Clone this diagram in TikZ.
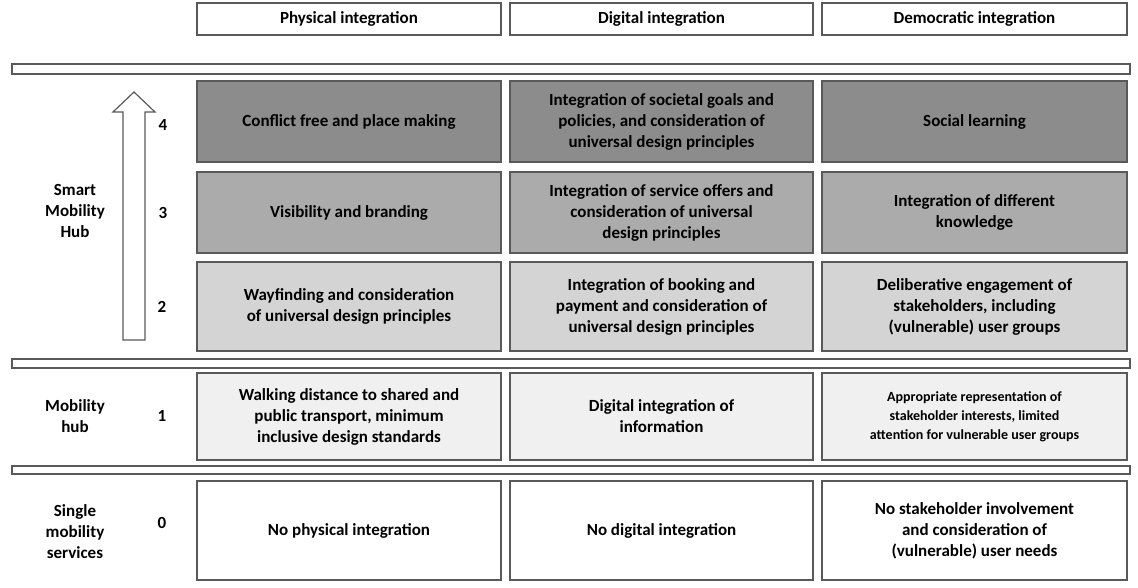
\documentclass[tikz,border=0pt]{standalone}
\usepackage{fontspec}
\setmainfont{Carlito}
\begin{document}
\begin{tikzpicture}[x=1pt,y=-1pt,
 cell/.style={draw=black!65,line width=1.2pt,align=center,font=\bfseries\fontsize{17}{21}\selectfont,inner sep=0pt},
 bar/.style={draw=black!65,line width=1.2pt,fill=white},
 lab/.style={align=center,font=\bfseries\fontsize{17}{21}\selectfont}]
\useasboundingbox (0,0) rectangle (1138,588);
\def\cx{{349,661.5,974.5}}
% header
\foreach \a/\b/\t [count=\i] in {197/501/Physical integration,510/813/Digital integration,822/1127/Democratic integration}
  \node[cell,minimum width=\b-\a,minimum height=32] (h\i) at ({(\a+\b)/2},19) {\t};
% bars
\draw[bar] (12,64) rectangle (1130,74);
\draw[bar] (12,359) rectangle (1130,368);
\draw[bar] (12,466) rectangle (1130,474);
% rows
\newcommand{\rowcells}[6]{%
 \node[cell,fill=#3,minimum width=304,minimum height=#2] (r#1a) at (349,#6) {#4};
 \node[cell,fill=#3,minimum width=303,minimum height=#2] (r#1b) at (661.5,#6) {#5};}
\rowcells{4}{81}{black!45}{Conflict free and place making}{Integration of societal goals and\\policies, and consideration of\\universal design principles}{121.5}
\node[cell,fill=black!45,minimum width=305,minimum height=81] (r4c) at (974.5,121.5) {Social learning};
\rowcells{3}{81}{black!33}{Visibility and branding}{Integration of service offers and\\consideration of universal\\design principles}{212.5}
\node[cell,fill=black!33,minimum width=305,minimum height=81] (r3c) at (974.5,212.5) {Integration of different\\knowledge};
\rowcells{2}{89}{black!17}{Wayfinding and consideration\\of universal design principles}{Integration of booking and\\payment and consideration of\\universal design principles}{306.5}
\node[cell,fill=black!17,minimum width=305,minimum height=89] (r2c) at (974.5,306.5) {Deliberative engagement of\\stakeholders, including\\(vulnerable) user groups};
\rowcells{1}{87}{black!6}{Walking distance to shared and\\public transport, minimum\\inclusive design standards}{Digital integration of\\information}{416.5}
\node[cell,fill=black!6,minimum width=305,minimum height=87,font=\bfseries\fontsize{14}{19}\selectfont] (r1c) at (974.5,416.5) {Appropriate representation of\\stakeholder interests, limited\\attention for vulnerable user groups};
\rowcells{0}{99}{white}{No physical integration}{No digital integration}{530.5}
\node[cell,fill=white,minimum width=305,minimum height=99] (r0c) at (974.5,530.5) {No stakeholder involvement\\and consideration of\\(vulnerable) user needs};
% arrow
\draw[black!65,line width=1.2pt,fill=white] (123,340) -- (123,112) -- (113,112) -- (134,92) -- (155,112) -- (145,112) -- (145,340) -- cycle;
% labels
\node[lab] (n4) at (163,125) {4};
\node[lab] (n3) at (163,213) {3};
\node[lab] (n2) at (162,307) {2};
\node[lab] (n1) at (162,416) {1};
\node[lab] (n0) at (162,523) {0};
\node[lab] (smh) at (75,211) {Smart\\Mobility\\Hub};
\node[lab] (mh) at (75,416) {Mobility\\hub};
\node[lab] (sms) at (75,532) {Single\\mobility\\services};
\end{tikzpicture}
\end{document}
